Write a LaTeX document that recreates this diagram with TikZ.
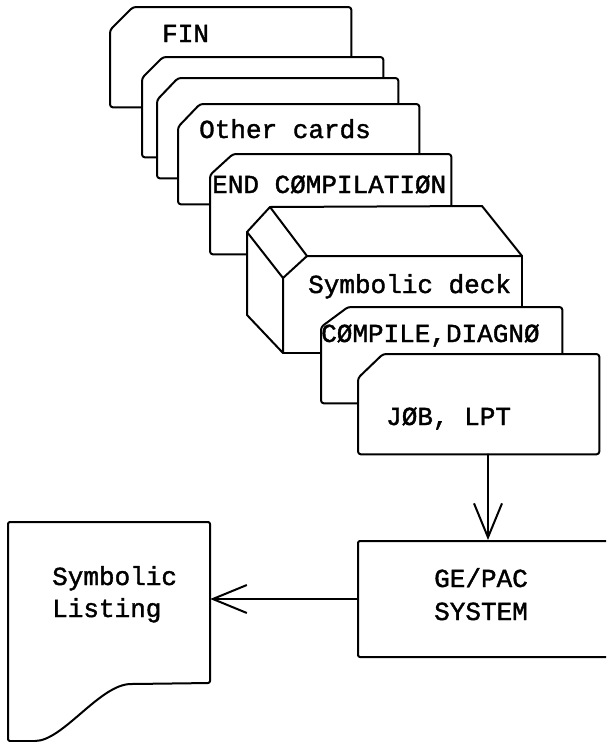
\documentclass[tikz,border=0pt]{standalone}
\usepackage{fontspec}
\newfontfamily\typewriter[FakeBold=1.5]{Liberation Mono}
\usetikzlibrary{arrows.meta}

% outline of a punched card with its clipped upper-left corner
\newcommand\cardedge[3]{%
  \draw[outline] (#1.south west) -- ([yshift=-#3pt]#1.north west)
    -- ([xshift=#2pt]#1.north west) -- (#1.north east)
    -- (#1.south east) -- cycle;}

\begin{document}
\begin{tikzpicture}[x=1pt,y=-1pt,
  ink/.style={line width=2pt, line join=round, line cap=round},
  outline/.style={ink, draw=black, fill=white, rounded corners=3pt},
  cardbox/.style={rectangle, draw=none, inner sep=0pt,
    minimum width=241pt, minimum height=100pt, anchor=north west},
  lbl/.style={inner sep=0pt, anchor=base west,
    font=\typewriter\fontsize{26}{33}\selectfont},
  flow/.style={ink, -{Straight Barb[length=34pt,width=28pt]}},
]
\useasboundingbox (0,0) rectangle (606,742);
\clip (0,0) rectangle (606,742);

% --- card deck, back to front ---
\node[cardbox] (fin) at (110,7) {};
\cardedge{fin}{23}{23}
\node[lbl] (finText) at (162,42) {FIN};

\node[cardbox] (blankA) at (142,57) {};
\cardedge{blankA}{21}{21}

\node[cardbox] (blankB) at (157,78) {};
\cardedge{blankB}{21}{22}

\node[cardbox] (other) at (178,104) {};
\cardedge{other}{22}{23}
\node[lbl] (otherText) at (199,138) {Other cards};

\node[cardbox] (endc) at (210,154) {};
\cardedge{endc}{23}{21}
\node[lbl] (endText) at (212,193) {END CØMPILATIØN};

% --- symbolic deck drawn as a block ---
\coordinate (dA) at (270,207);
\coordinate (dBR) at (482,206);
\coordinate (dFR) at (522,256);
\coordinate (dD) at (307,256);
\coordinate (dB) at (247,232);
\coordinate (dC) at (283,278);
\coordinate (dE) at (247,315);
\coordinate (dF) at (283,353);
\coordinate (dG) at (522,353);
\fill[white] (dA) -- (dBR) -- (dFR) -- (dG) -- (dF) -- (dE) -- (dB) -- cycle;
\draw[ink] (dB) -- (dA) -- (dBR) -- (dFR) -- (dD) -- (dA);
\draw[ink] (dB) -- (dC) -- (dD);
\draw[ink] (dB) -- (dE) -- (dF) -- (dC);
\draw[ink] (dF) -- (dG) -- (dFR);
\node[lbl] (deck) at (308,293) {Symbolic deck};

\node[cardbox, minimum height=96pt] (compile) at (321,307) {};
\cardedge{compile}{27}{20}
\node[lbl] (compileText) at (321,342) {CØMPILE,DIAGNØ};

\node[cardbox] (job) at (358,354) {};
\cardedge{job}{25}{24}
\node[lbl] (jobText) at (386,425) {JØB, LPT};

% --- processor and output listing ---
\node[ink, draw, rounded corners=2pt, inner sep=0pt,
  minimum width=260pt, minimum height=116pt] (gepac) at (488,599) {};
\node[lbl, anchor=base] (geText) at (481,587) {GE/PAC};
\node[lbl, anchor=base] (sysText) at (481,620) {SYSTEM};

\node[inner sep=0pt, minimum width=202pt, minimum height=219pt] (listing) at (109,631.5) {};
\draw[outline, rounded corners=2pt] (8,741) -- (8,522) -- (210,522) -- (210,683)
  -- (133,684) .. controls (100,684) and (63,741) .. (33,741) -- cycle;
\node[lbl] (symText) at (52,585) {Symbolic};
\node[lbl] (lstText) at (52,617) {Listing};

% --- flow ---
\draw[flow] (gepac.north |- job.south) -- (gepac.north);
\draw[flow] (gepac.west) -- (gepac.west -| listing.east);
\end{tikzpicture}
\end{document}
